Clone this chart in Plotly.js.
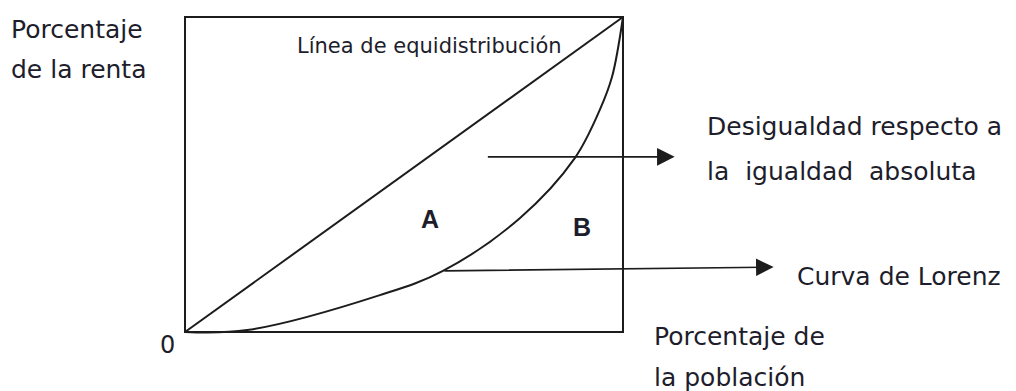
<!DOCTYPE html>
<html>
<head>
<meta charset="utf-8">
<script src="https://cdn.plot.ly/plotly-3.0.1.min.js"></script>
<style>
  html, body { margin: 0; padding: 0; background: #fff; }
  #chart { width: 1016px; height: 391px; }
</style>
</head>
<body>
<div id="chart"></div>
<script>
// Lorenz curve (% population, % income)
const lorenzX = [0, 14.2, 44.5, 58.9, 76.5, 89.0, 94.7, 97.5, 100];
const lorenzY = [0, 0.6, 11.7, 19.4, 36.2, 55.2, 70.5, 81.0, 100];

// line of perfect equality
const equalX = [0, 100];
const equalY = [0, 100];

// arrows: [tailX, tailY, tipX, tipY]
const arrowInequality = [68.8, 55.6, 111.8, 55.6];
const arrowLorenz = [58.9, 19.4, 134.4, 20.6];

const INK = '#1c1c1c';
const TEXT = '#1d1d2b';
const FONT = 'DejaVu Sans, sans-serif';

const lineStyle = { color: INK, width: 2 };

const data = [
    { x: equalX, y: equalY, type: 'scatter', mode: 'lines', line: lineStyle, hoverinfo: 'skip' },
    { x: lorenzX, y: lorenzY, type: 'scatter', mode: 'lines', line: Object.assign({ shape: 'spline', smoothing: 1 }, lineStyle), hoverinfo: 'skip' },
];

function label(text, x, y, size, opts) {
    return Object.assign({
        text: text, x: x, y: y, xref: 'x', yref: 'y',
        xanchor: 'left', yanchor: 'middle', showarrow: false,
        font: { family: FONT, size: size, color: TEXT },
    }, opts || {});
}

function arrow(a) {
    return {
        x: a[2], y: a[3], ax: a[0], ay: a[1],
        xref: 'x', yref: 'y', axref: 'x', ayref: 'y',
        text: '', showarrow: true,
        arrowhead: 2, arrowsize: 2.2, arrowwidth: 1.6, arrowcolor: INK,
    };
}

const boldFont = { family: 'Liberation Sans, Arial, sans-serif', size: 25, color: TEXT };

const annotations = [
    label('Porcentaje', -40.3, 95.9, 25),
    label('de la renta', -40.3, 83.2, 25),
    label('Línea de equidistribución', 25.0, 90.8, 21),
    label('Desigualdad respecto a', 118.7, 65.1, 25),
    label('la\u00a0 igualdad\u00a0 absoluta', 118.7, 51.1, 25),
    label('Curva de Lorenz', 139.3, 17.5, 25),
    label('Porcentaje de', 106.6, -1.3, 25),
    label('la población', 106.6, -14.4, 25),
    label('0', -3.9, -4.1, 24, { xanchor: 'center' }),
    label('<b>A</b>', 55.9, 35.9, 25, { xanchor: 'center', font: boldFont }),
    label('<b>B</b>', 90.6, 33.3, 25, { xanchor: 'center', font: boldFont }),
    arrow(arrowInequality),
    arrow(arrowLorenz),
];

const shapes = [
    { type: 'rect', xref: 'x', yref: 'y', x0: 0, y0: 0, x1: 100, y1: 100, line: { color: INK, width: 2 } },
];

const layout = {
    width: 1016, height: 391,
    margin: { l: 0, r: 0, t: 0, b: 0, pad: 0 },
    paper_bgcolor: '#fff', plot_bgcolor: '#fff',
    showlegend: false,
    xaxis: { range: [-42.24, 189.73], visible: false, fixedrange: true },
    yaxis: { range: [-18.73, 105.40], visible: false, fixedrange: true },
    shapes: shapes,
    annotations: annotations,
};

Plotly.newPlot('chart', data, layout, { staticPlot: true, displayModeBar: false });
</script>
</body>
</html>
